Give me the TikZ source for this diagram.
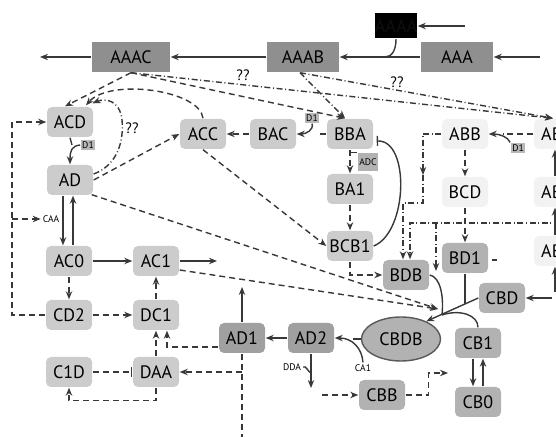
\documentclass[tikz,border=0pt]{standalone}
\usepackage{fontspec}
\setmainfont{PT Sans}
\usetikzlibrary{shapes.geometric,calc,arrows.meta}
\definecolor{boxdark}{gray}{0.56}
\definecolor{boxmid}{gray}{0.70}
\definecolor{boxlight}{gray}{0.80}
\definecolor{boxpale}{gray}{0.95}
\definecolor{wire}{gray}{0.22}
\tikzset{>={Stealth[length=4pt,width=3.2pt]}, % filled arrow heads
x=0.5pt, y=-0.5pt, % one unit is one pixel of the sketch, y runs down
box/.style={minimum width=23pt, minimum height=15pt, inner sep=0pt, rounded corners=2.5pt, text=black, font=\fontsize{9}{10}\selectfont}, % every block
lbox/.style={box, fill=boxlight},
mbox/.style={box, fill=boxmid},
dbox/.style={box, fill=boxdark!85},
pbox/.style={box, fill=boxpale},
topbox/.style={box, rounded corners=0pt, fill=boxdark, minimum width=36pt},
tag/.style={inner sep=0.7pt, text=black, font=\fontsize{4.8}{5}\selectfont}, % small labels on the arrows
gtag/.style={tag, fill=boxlight!90!black},
qq/.style={text=black, inner sep=0pt, font=\fontsize{7.5}{8}\selectfont},
dsh/.style={dash pattern=on 3pt off 2pt}, % dashed links
dd/.style={dash pattern=on 3pt off 1.3pt on 0.5pt off 1.3pt}, % dash-dot links
}

\begin{document}
\begin{tikzpicture}[color=wire, line width=0.7pt]
\clip (0,0) rectangle (556,437);
% top row
\node[topbox, fill=black, minimum width=21pt, minimum height=12.5pt, text=black!94] (blk) at (396,26) {AAAA};
\node[topbox] (aaa) at (457,57) {AAA};
\node[topbox] (aaab) at (303,57) {AAAB};
\node[topbox, minimum width=39pt] (aaac) at (131,57) {AAAC};
\coordinate (blkin) at (465,26);
\coordinate (aaain) at (540,57);
\coordinate (merge) at (385,57);
\coordinate (aaacl) at (40,57);

% left part
\node[lbox] (acd) at (70,122) {ACD};
\node[lbox] (ad) at (70,180) {AD};
\node[lbox] (ac0) at (69,261) {AC0};
\node[lbox] (ac1) at (156,261) {AC1};
\node[lbox] (cd2) at (69,315) {CD2};
\node[lbox] (dc1) at (156,315) {DC1};
\node[lbox] (c1d) at (69,372) {C1D};
\node[lbox] (daa) at (156,372) {DAA};
\node[lbox] (acc) at (203,134) {ACC};
\node[lbox] (bac) at (273,134) {BAC};
\node[lbox] (bba) at (350,134) {BBA};
\node[lbox] (ba1) at (350,189) {BA1};
\node[lbox] (bcb1) at (350,246) {BCB1};

% right part
\node[pbox] (abb) at (465,134) {ABB};
\node[pbox] (bcd) at (465,192) {BCD};
\node[pbox] (ab1) at (557,134) {AB\phantom{A}};
\node[pbox] (ab2) at (557,192) {AB\phantom{A}};
\node[pbox] (ab3) at (557,251) {AB\phantom{A}};
\node[mbox] (bd1) at (465,258) {BD1};
\node[mbox] (bdb) at (406,275) {BDB};
\node[mbox] (cbd) at (502,298) {CBD};
\node[mbox] (cb1) at (478,343) {CB1};
\node[mbox] (cb0) at (478,402) {CB0};
\node[mbox] (cbb) at (382,395) {CBB};
\node[dbox] (ad1) at (242,338) {AD1};
\node[dbox] (ad2) at (311,338) {AD2};
\node[ellipse, draw=black!65, fill=boxmid, minimum width=39.5pt, minimum height=22pt, inner sep=0pt, text=black, font=\fontsize{9}{10}\selectfont] (cbdb) at (401,339) {CBDB};

% small labels
\node[gtag] (d1a) at (88,145) {D1};
\node[gtag] (d1b) at (312,118) {D1};
\node[gtag] (d1c) at (518,148) {D1};
\node[tag, fill=boxmid, minimum width=9pt, minimum height=9pt] (adc) at (368,162) {ADC};
\node[tag] (caa) at (51,219) {CAA};
\node[tag] (dda) at (292,367) {DDA};
\node[tag] (ca1) at (363,368) {CA1};
\node[qq] (q1) at (132,128) {??};
\node[qq] (q2) at (243,75) {??};
\node[qq] (q3) at (397,82) {??};

% free ends
\coordinate (lft) at (12,219);
\coordinate (ac1r) at (217,261);
\coordinate (ad1up) at (242,287);
\coordinate (ad1bot) at (242,440);
\coordinate (hub) at (438,309);
\coordinate (j1) at (465,304);
\coordinate (j2) at (442,315);
\coordinate (ddtip) at (423,175);
\coordinate (ddc) at (423,203);
\coordinate (ddr) at (560,223);
\coordinate (ddk) at (436,223);
\coordinate (bdbne) at (436,271);
\coordinate (ddaend) at (311,388);
\coordinate (cbbin) at (322,395);
\coordinate (cbbout) at (448,373);
\coordinate (cbdin) at (552,298);
\coordinate (ab3in) at (555,292);

% top row links
\draw[->] (blkin) -- (blk);
\draw[->] (aaain) -- (aaa);
\draw[->] (aaa) -- (aaab);
\draw (blk.south) .. controls (396,50) and (392,57) .. (merge);
\draw[->] (aaab) -- (aaac);
\draw[->] (aaac) -- (aaacl);
\draw[dsh,->] (aaac.south) -- ($(acd.north)+(-5,0)$);
\draw[dsh,->] (aaac.south) -- ($(bba.north)+(-5,0)$);
\draw[dd,->] (aaac.south) -- ($(ab1.north)+(-4,0)$);
\draw[dd,->] ($(aaab.south)+(-3,0)$) -- ($(ab1.north)+(-4,0)$);
\draw[dd,->] ($(aaab.south)+(-3,0)$) -- ($(bba.north)+(-5,0)$);

% ACD, AD and ACC
\draw (acd.south) -- (72,145);
\draw[->] (d1a.west) .. controls (72,146) and (70,150) .. (ad.north);
\draw[dsh,->] (ad.east) -- (acc.west);
\draw[dd,->] ($(ad.east)+(0,-6)$) .. controls (118,165) and (124,140) .. (122,120) .. controls (120,100) and (105,98) .. ($(acd.north east)+(-1,-3)$);
\draw[dsh,->] (acc.north) .. controls (200,90) and (110,78) .. ($(acd.north)+(16,-1)$);
\draw[dsh,->] (bac) -- (acc);
\draw[dsh] (bba.west) -- ++(-10,0);
\draw[->] (d1b.south) .. controls (314,130) and (306,134) .. (bac.east);
\draw[dsh,->] (bba.south) -- (ba1.north);
\draw (bba.south |- adc.north west) -- (adc.north west);
\draw[dsh,->] (ba1) -- (bcb1);
\draw[-{Bar[width=5pt]}] (bcb1.east) .. controls (408,232) and (410,140) .. ($(bba.east)+(3,7)$);
\draw[dsh,->] (acc.south) -- (bcb1.west);
\draw[dsh,->] (bcb1.south) |- (bdb.west);

% towards CBDB
\draw[dsh,->] ($(ad.south east)+(-2,-1)$) -- (hub);
\draw[dsh,->] ($(ac1.east)+(0,9)$) -- (hub);
\draw[->] (cbd.west) -- (cbdb.35);
\draw (bd1.south) -- (j1);
\draw (bdb.east) .. controls (440,277) and (444,295) .. (j2);
\draw (cb1.north) .. controls (478,315) and (460,309) .. (j2);
\draw[->] (cbdin) -- (cbd.east);

% ABB column
\draw[dsh,->] (abb) -- (bcd);
\draw[dsh,->] (bcd) -- (bd1);
\draw[dsh] (ab1.west) -- ($(abb.east)+(14,0)$);
\draw[->] (d1c.north west) .. controls (508,137) and (500,134) .. (abb.east);
\draw[dd,->] (abb.west) -| (ddtip);
\draw[dd,->] (ddtip) -- (ddc) -| ($(bdb.north)+(-3,0)$);
\draw[dd,->] (ddr) -| ($(bdb.north)+(4,0)$);
\draw[dd,->] (ddk) -- (bdbne);
\draw ($(bd1.east)+(3,2)$) -- ++(5,0);
\draw[->] ($(ab2.north)+(-2,0)$) -- ($(ab1.south)+(-2,0)$);
\draw[->] ($(ab3.north)+(-2,0)$) -- ($(ab2.south)+(-2,0)$);
\draw[->] (ab3in) -- ($(ab3.south)+(-2,0)$);

% bottom right
\draw (cbdb.west) -- ++(-8,0);
\draw[->] (ca1.north) .. controls (362,348) and (352,338) .. (ad2.east);
\draw[->] (ad2) -- (ad1);
\draw[->] (ad2.south) -- (ddaend);
\draw (dda.east) .. controls (306,365) and (308,372) .. (311,373);
\draw[dsh,->] (cbbin) -- (cbb.west);
\draw[dsh,->] (cbb.east) -- ++(23,0) |- (cbbout);
\draw[->] ($(cb1.south)+(-5,0)$) -- ($(cb0.north)+(-5,0)$);
\draw[->] ($(cb0.north)+(5,0)$) -- ($(cb1.south)+(5,0)$);

% bottom left
\draw[->] ($(ad.south)+(-7,0)$) -- ($(ac0.north)+(-6,0)$);
\draw[->] ($(ac0.north)+(4,0)$) -- ($(ad.south)+(3,0)$);
\draw[dsh,->] (cd2.west) -| (lft) |- (acd.west);
\draw[dsh,->] (lft) -- (caa.west);
\draw[->] (ac0) -- (ac1);
\draw[->] (ac1.east) -- (ac1r);
\draw[dsh,->] (ac0) -- (cd2);
\draw[dsh,->] (cd2) -- (dc1);
\draw[dsh,->] (dc1) -- (ac1);
\draw[dsh,->] (daa) -- (dc1);
\draw[dsh,->] ($(ad1.west)+(0,9)$) -| ($(dc1.south)+(11,0)$);
\draw[dsh,-{Bar[width=5pt]}] (c1d) -- (daa);
\draw[dsh,->] (daa.south) -- ++(0,13) -| (c1d.south);
\draw[->] (ad1.north) -- (ad1up);
\draw[dsh] (ad1.south) -- (ad1bot);
\draw[dsh,->] (ad1.south |- daa.east) -- (daa.east);
\end{tikzpicture}
\end{document}
